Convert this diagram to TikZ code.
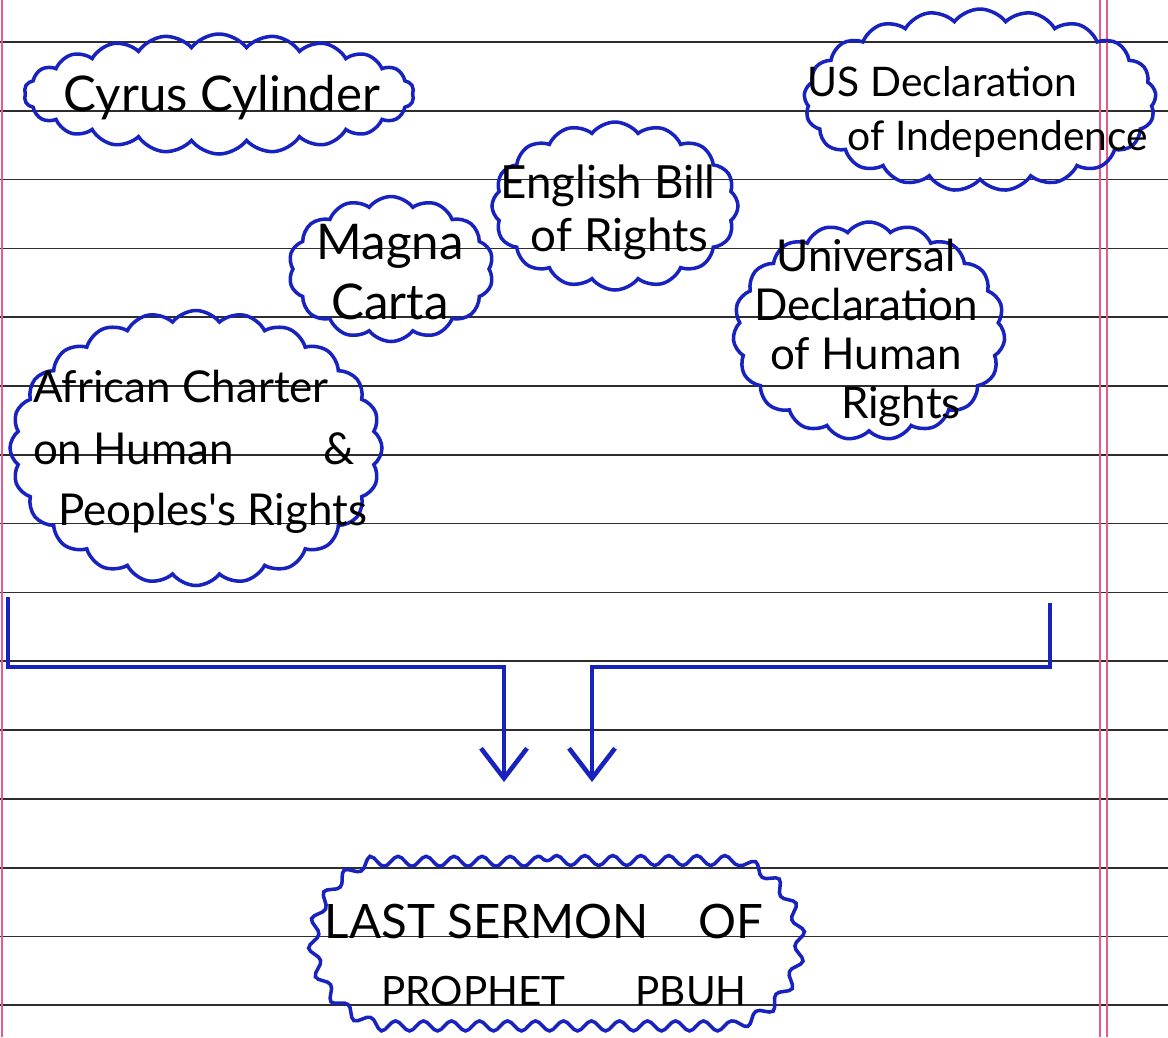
\documentclass[tikz,border=0pt]{standalone}
\usepackage{fontspec}
\usepackage{tikz}
\usetikzlibrary{shapes.symbols,shapes.misc,arrows.meta,decorations.pathmorphing}
\newfontfamily\handfont{Lato}
\definecolor{ink}{RGB}{24,34,190}
\definecolor{ruling}{RGB}{45,45,45}
\definecolor{margin}{RGB}{232,90,140}

\begin{document}
\begin{tikzpicture}[x=0.1mm,y=-0.1mm,>={Straight Barb[length=3mm,width=4.6mm]}]
\tikzstyle{every node}=[font=\handfont\fontsize{14}{17}\selectfont]
\tikzstyle{bubble}=[cloud,cloud puff arc=105,cloud ignores aspect,draw=ink,line width=1pt,inner sep=0pt]
\tikzstyle{wavy}=[rounded rectangle,rounded rectangle arc length=150,draw=ink,line width=1pt,decorate,decoration={snake,amplitude=0.5mm,segment length=2.8mm}]
\tikzstyle{word}=[align=center,inner sep=0pt,text=black]
\tikzstyle{pen}=[draw=ink,line width=1.3pt]
\useasboundingbox(0,0) rectangle (1168,1037);
\fill[white](0,0) rectangle (1168,1037);
\foreach \k in {0,...,14} \draw[ruling,line width=0.5pt](0,{42+68.8*\k})--(1168,{42+68.8*\k});
\draw[margin,line width=0.6pt](2,0)--(2,1037) (1100,0)--(1100,1037) (1107,0)--(1107,1037);

\node[bubble,cloud puffs=22,minimum width=39mm,minimum height=12mm](cyrus) at (219,94){};
\node[word](cyrus-t) at (222,98){Cyrus Cylinder};

\node[bubble,cloud puffs=14,minimum width=20.5mm,minimum height=14.5mm](magna) at (391,269){};
\node[word](magna-t) at (390,272){Magna\\Carta};

\node[bubble,cloud puffs=16,minimum width=24.6mm,minimum height=16.8mm](english) at (615,206){};
\node[word,font=\handfont\fontsize{13}{15}\selectfont](english-t) at (608,212){English Bill\\\ \ of Rights};

\node[bubble,cloud puffs=21,minimum width=35.2mm,minimum height=18.2mm](usdecl) at (980,100){};
\node[word,align=left,font=\handfont\fontsize{11.6}{15.5}\selectfont](usdecl-t) at (978,112){US Declaration\\\hspace{4mm}of Independence};

\node[bubble,cloud puffs=19,minimum width=27.2mm,minimum height=21.8mm](udhr) at (869,331){};
\node[word,font=\handfont\fontsize{12.5}{14}\selectfont](udhr-t) at (866,333){Universal\\Declaration\\of Human\\\hspace{7mm}Rights};

\node[bubble,cloud puffs=24,minimum width=37.2mm,minimum height=27.5mm](african) at (196,448){};
\node[word,align=left,font=\handfont\fontsize{12.5}{17.5}\selectfont](african-t) at (200,452){African Charter\\on Human\hspace{9mm}\&\\\hspace{2.5mm}Peoples's Rights};

\node[wavy,minimum width=51mm,minimum height=16.5mm](sermon) at (548,943){};
\node[word,font=\handfont\fontsize{13.5}{19}\selectfont](sermon-t) at (544,955){LAST SERMON\hspace{5mm}OF\\{\fontsize{11.5}{19}\selectfont\hspace{4mm}PROPHET\hspace{7mm}PBUH}};

\coordinate (bl) at (8,597);
\coordinate (br) at (1050,603);
\coordinate (jl) at (504,667);
\coordinate (jr) at (592,667);
\coordinate (tl) at (504,782);
\coordinate (tr) at (592,782);
\draw[pen,->](bl)|-(jl)--(tl);
\draw[pen,->](br)|-(jr)--(tr);

\end{tikzpicture}
\end{document}
